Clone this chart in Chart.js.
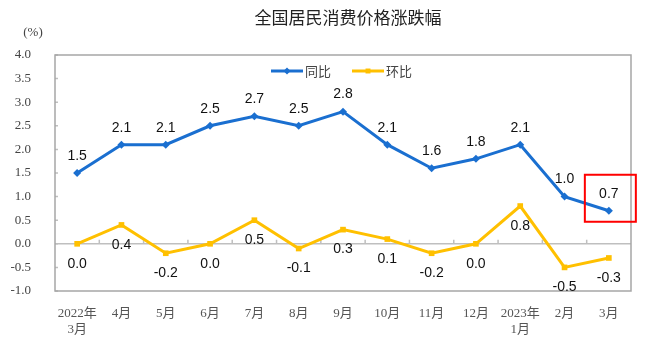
<!DOCTYPE html>
<html>
<head>
    <title>全国居民消费价格涨跌幅</title>
    <script src="https://cdn.jsdelivr.net/npm/chart.js"></script>
    <style>
        body { margin: 0; background: #fff; }
        #wrap { width: 653px; height: 344px; }
    </style>
</head>
<body>
    <div id="wrap"><canvas id="cpi-chart"></canvas></div>

    <script>
        const months = [['2022年', '3月'], '4月', '5月', '6月', '7月', '8月', '9月', '10月', '11月', '12月', ['2023年', '1月'], '2月', '3月'];
        const yoy = [1.5, 2.1, 2.1, 2.5, 2.7, 2.5, 2.8, 2.1, 1.6, 1.8, 2.1, 1.0, 0.7];
        const mom = [0.0, 0.4, -0.2, 0.0, 0.5, -0.1, 0.3, 0.1, -0.2, 0.0, 0.8, -0.5, -0.3];
        const yTicks = [-1.0, -0.5, 0.0, 0.5, 1.0, 1.5, 2.0, 2.5, 3.0, 3.5, 4.0];

        const blue = '#1a6fd0';
        const yellow = '#ffc000';
        const cjk = '"Liberation Serif", "Noto Sans CJK SC", serif';

        // frame, zero line, title, legend, labels, red box
        const decor = {
            id: 'decor',
            beforeDatasetsDraw(chart) {
                const { ctx, chartArea: a, scales: { x, y } } = chart;
                ctx.save();
                const y0 = y.getPixelForValue(0);
                ctx.strokeStyle = '#bfbfbf';
                ctx.lineWidth = 1.5;
                ctx.beginPath();
                ctx.moveTo(a.left, y0);
                ctx.lineTo(a.right, y0);
                for (let i = 1; i < months.length; i++) {
                    const tx = (x.getPixelForValue(i - 1) + x.getPixelForValue(i)) / 2;
                    ctx.moveTo(tx, y0);
                    ctx.lineTo(tx, y0 - 4);
                }
                ctx.stroke();
                // y tick marks inside
                ctx.beginPath();
                yTicks.forEach(v => {
                    const ty = y.getPixelForValue(v);
                    ctx.moveTo(a.left, ty);
                    ctx.lineTo(a.left + 3, ty);
                });
                ctx.stroke();
                ctx.strokeStyle = '#a6a6a6';
                ctx.lineWidth = 1.5;
                ctx.strokeRect(a.left, a.top, a.right - a.left, a.bottom - a.top);
                ctx.restore();
            },
            afterDatasetsDraw(chart) {
                const { ctx } = chart;
                ctx.save();
                // title
                ctx.fillStyle = '#222';
                ctx.font = '17px "Noto Sans CJK SC", sans-serif';
                ctx.textAlign = 'center';
                ctx.textBaseline = 'middle';
                ctx.fillText('全国居民消费价格涨跌幅', 348, 18);
                // unit
                ctx.fillStyle = '#444';
                ctx.font = '13px "Liberation Serif", serif';
                ctx.fillText('(%)', 33, 33);

                // legend
                const items = [
                    { label: '同比', color: blue, style: 'rectRot', x: 271 },
                    { label: '环比', color: yellow, style: 'rect', x: 352 }
                ];
                items.forEach(it => {
                    const ly = 71;
                    ctx.strokeStyle = it.color;
                    ctx.lineWidth = 3;
                    ctx.beginPath();
                    ctx.moveTo(it.x, ly);
                    ctx.lineTo(it.x + 32, ly);
                    ctx.stroke();
                    ctx.fillStyle = it.color;
                    Chart.helpers.drawPoint(ctx, { pointStyle: it.style, radius: 3.5, borderWidth: 0 }, it.x + 16, ly);
                    ctx.fillStyle = '#444';
                    ctx.font = '13px "Noto Sans CJK SC", sans-serif';
                    ctx.textAlign = 'left';
                    ctx.fillText(it.label, it.x + 34, ly);
                });

                // data labels
                ctx.fillStyle = '#111';
                ctx.font = '14px "Liberation Sans", Arial, sans-serif';
                ctx.textAlign = 'center';
                ctx.textBaseline = 'middle';
                const m0 = chart.getDatasetMeta(0).data;
                m0.forEach((p, i) => ctx.fillText(yoy[i].toFixed(1), p.x, p.y - 17));
                const m1 = chart.getDatasetMeta(1).data;
                m1.forEach((p, i) => ctx.fillText(mom[i].toFixed(1), p.x, p.y + 20));

                // highlight box on latest 同比 value
                const last = m0[m0.length - 1];
                ctx.strokeStyle = '#ff0000';
                ctx.lineWidth = 2;
                ctx.strokeRect(last.x - 24, last.y - 36, 51, 47);
                ctx.restore();
            }
        };

        new Chart(document.getElementById('cpi-chart'), {
            type: 'line',
            data: {
                labels: months,
                datasets: [{
                    label: '同比',
                    data: yoy,
                    borderColor: blue,
                    backgroundColor: blue,
                    borderWidth: 3,
                    pointStyle: 'rectRot',
                    pointRadius: 4,
                    pointBorderWidth: 0,
                    tension: 0
                }, {
                    label: '环比',
                    data: mom,
                    borderColor: yellow,
                    backgroundColor: yellow,
                    borderWidth: 3,
                    pointStyle: 'rect',
                    pointRadius: 4,
                    pointBorderWidth: 0,
                    tension: 0
                }]
            },
            options: {
                responsive: true,
                maintainAspectRatio: false,
                animation: false,
                layout: { padding: { top: 55, right: 22, left: 0, bottom: 0 } },
                plugins: { legend: { display: false }, title: { display: false }, tooltip: { enabled: false } },
                scales: {
                    x: {
                        offset: true,
                        grid: { display: false },
                        border: { display: false },
                        ticks: {
                            color: '#555',
                            font: { family: cjk, size: 13 },
                            padding: 7,
                            maxRotation: 0,
                            autoSkip: false
                        },
                        afterFit: s => { s.height = 53; }
                    },
                    y: {
                        min: -1,
                        max: 4,
                        grid: { display: false },
                        border: { display: false },
                        afterBuildTicks: s => { s.ticks = yTicks.map(v => ({ value: v })); },
                        ticks: {
                            color: '#444',
                            font: { family: '"Liberation Serif", serif', size: 13 },
                            padding: 16,
                            callback: v => v.toFixed(1)
                        },
                        afterFit: s => { s.width = 55; }
                    }
                }
            },
            plugins: [decor]
        });
    </script>
</body>
</html>
